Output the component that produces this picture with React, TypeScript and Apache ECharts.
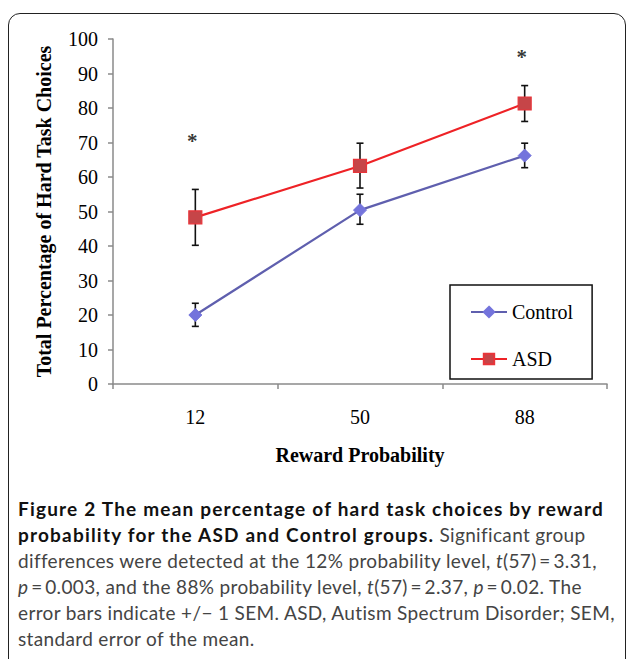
import React, { useEffect, useRef } from "react";
import * as echarts from "echarts";

const categories = ["12", "50", "88"];
const controlMeans = [20.0, 50.4, 66.2];
const controlLow = [16.7, 46.3, 62.7];
const controlHigh = [23.4, 55.0, 69.8];
const asdMeans = [48.3, 63.2, 81.3];
const asdLow = [40.2, 56.8, 76.1];
const asdHigh = [56.4, 69.8, 86.5];
const starPoints = [[0, 71.4], [2, 95.6]];
const yTicks = { min: 0, max: 100, interval: 10 };

const captionLines: { text: string; bold?: boolean; italic?: boolean }[][] = [
  [{ text: "Figure 2 The mean percentage of hard task choices by reward", bold: true }],
  [{ text: "probability for the ASD and Control groups.", bold: true }, { text: " Significant group" }],
  [{ text: "differences were detected at the 12% probability level, " }, { text: "t", italic: true }, { text: "(57)\u2009=\u20093.31," }],
  [{ text: "p", italic: true }, { text: "\u2009=\u20090.003, and the 88% probability level, " }, { text: "t", italic: true }, { text: "(57)\u2009=\u20092.37, " }, { text: "p", italic: true }, { text: "\u2009=\u20090.02. The" }],
  [{ text: "error bars indicate +/\u2212 1 SEM. ASD, Autism Spectrum Disorder; SEM," }],
  [{ text: "standard error of the mean." }],
];

const SERIF = "'Liberation Serif', 'Times New Roman', serif";

function errorBarSeries(low: number[], high: number[], z: number) {
  return {
    type: "custom",
    z,
    silent: true,
    data: low.map((l, i) => [i, l, high[i]]),
    encode: { x: 0, y: [1, 2] },
    renderItem: (params: any, api: any) => {
      const i = api.value(0);
      const lo = api.coord([i, api.value(1)]);
      const hi = api.coord([i, api.value(2)]);
      const cap = 3.5;
      const style = { stroke: "#111", lineWidth: 1.6 };
      return {
        type: "group",
        children: [
          { type: "line", shape: { x1: lo[0], y1: lo[1], x2: hi[0], y2: hi[1] }, style },
          { type: "line", shape: { x1: lo[0] - cap, y1: lo[1], x2: lo[0] + cap, y2: lo[1] }, style },
          { type: "line", shape: { x1: hi[0] - cap, y1: hi[1], x2: hi[0] + cap, y2: hi[1] }, style },
        ],
      };
    },
  };
}

export default function App() {
  const ref = useRef<HTMLDivElement>(null);
  useEffect(() => {
    if (!ref.current) return;
    const chart = echarts.init(ref.current, undefined, { renderer: "svg" });
    chart.setOption({
      animation: false,
      grid: { left: 113, right: 22, top: 39, bottom: 275, containLabel: false },
      legend: {
        orient: "vertical",
        left: 450,
        top: 285,
        padding: [17, 19, 10, 20],
        itemGap: 27,
        itemWidth: 36,
        itemHeight: 13,
        borderColor: "#111",
        borderWidth: 1.5,
        backgroundColor: "#fff",
        data: ["Control", "ASD"],
        textStyle: { fontFamily: SERIF, fontSize: 20, color: "#000" },
      },
      xAxis: {
        type: "category",
        data: categories,
        boundaryGap: true,
        name: "Reward Probability",
        nameLocation: "middle",
        nameGap: 61,
        nameTextStyle: { fontFamily: SERIF, fontSize: 20, fontWeight: "bold", color: "#000" },
        axisLine: { lineStyle: { color: "#8a8a8a", width: 1.5 } },
        axisTick: { show: true, alignWithLabel: false, length: 5, lineStyle: { color: "#8a8a8a", width: 1.5 } },
        axisLabel: { fontFamily: SERIF, fontSize: 20, color: "#000", margin: 23 },
        splitLine: { show: false },
      },
      yAxis: {
        type: "value",
        min: yTicks.min,
        max: yTicks.max,
        interval: yTicks.interval,
        name: "Total Percentage of Hard Task Choices",
        nameLocation: "middle",
        nameGap: 59,
        nameRotate: 90,
        nameTextStyle: { fontFamily: SERIF, fontSize: 20, fontWeight: "bold", color: "#000" },
        axisLine: { show: true, lineStyle: { color: "#8a8a8a", width: 1.5 } },
        axisTick: { show: true, length: 5, lineStyle: { color: "#8a8a8a", width: 1.5 } },
        axisLabel: { fontFamily: SERIF, fontSize: 20, color: "#000", margin: 15 },
        splitLine: { show: false },
      },
      series: [
        errorBarSeries(controlLow, controlHigh, 1),
        errorBarSeries(asdLow, asdHigh, 1),
        {
          name: "Control",
          type: "line",
          z: 3,
          data: controlMeans,
          symbol: "diamond",
          symbolSize: 13,
          lineStyle: { color: "#5f5fae", width: 2.2 },
          itemStyle: { color: "#7474dc", borderColor: "#7474dc", borderWidth: 1 },
        },
        {
          name: "ASD",
          type: "line",
          z: 4,
          data: asdMeans,
          symbol: "rect",
          symbolSize: 13,
          lineStyle: { color: "#ee2226", width: 2.2 },
          itemStyle: { color: "#c64548", borderColor: "#e8353a", borderWidth: 1.2 },
        },
        {
          type: "scatter",
          z: 5,
          data: starPoints,
          symbolSize: 0,
          silent: true,
          label: {
            show: true,
            formatter: "*",
            position: "inside",
            offset: [-3, 3],
            fontFamily: SERIF,
            fontSize: 21,
            fontWeight: "bold",
            color: "#000",
          },
        },
      ],
    });
    return () => chart.dispose();
  }, []);

  return (
    <div style={{ position: "absolute", left: 0, top: 0, width: 629, height: 659, overflow: "hidden", background: "#fff" }}>
      <div
        style={{
          position: "absolute",
          left: 8,
          top: 13,
          width: 618,
          height: 720,
          border: "1.5px solid #222",
          borderRadius: 12,
          boxSizing: "border-box",
        }}
      />
      <div ref={ref} style={{ position: "absolute", left: 0, top: 0, width: 629, height: 659 }} />
      {captionLines.map((line, li) => (
        <div
          key={li}
          style={{
            position: "absolute",
            left: 18,
            top: 496 + li * 26,
            height: 26,
            lineHeight: "26px",
            whiteSpace: "nowrap",
            fontFamily: "Lato, 'Open Sans', sans-serif",
            fontSize: 19,
            color: "#444",
          }}
        >
          {line.map((seg, si) => (
            <span
              key={si}
              style={{
                fontWeight: seg.bold ? 700 : 400,
                fontStyle: seg.italic ? "italic" : "normal",
                color: seg.bold ? "#111" : "#444",
                letterSpacing: seg.bold ? "1.2px" : "0.35px",
              }}
            >
              {seg.text}
            </span>
          ))}
        </div>
      ))}
    </div>
  );
}
